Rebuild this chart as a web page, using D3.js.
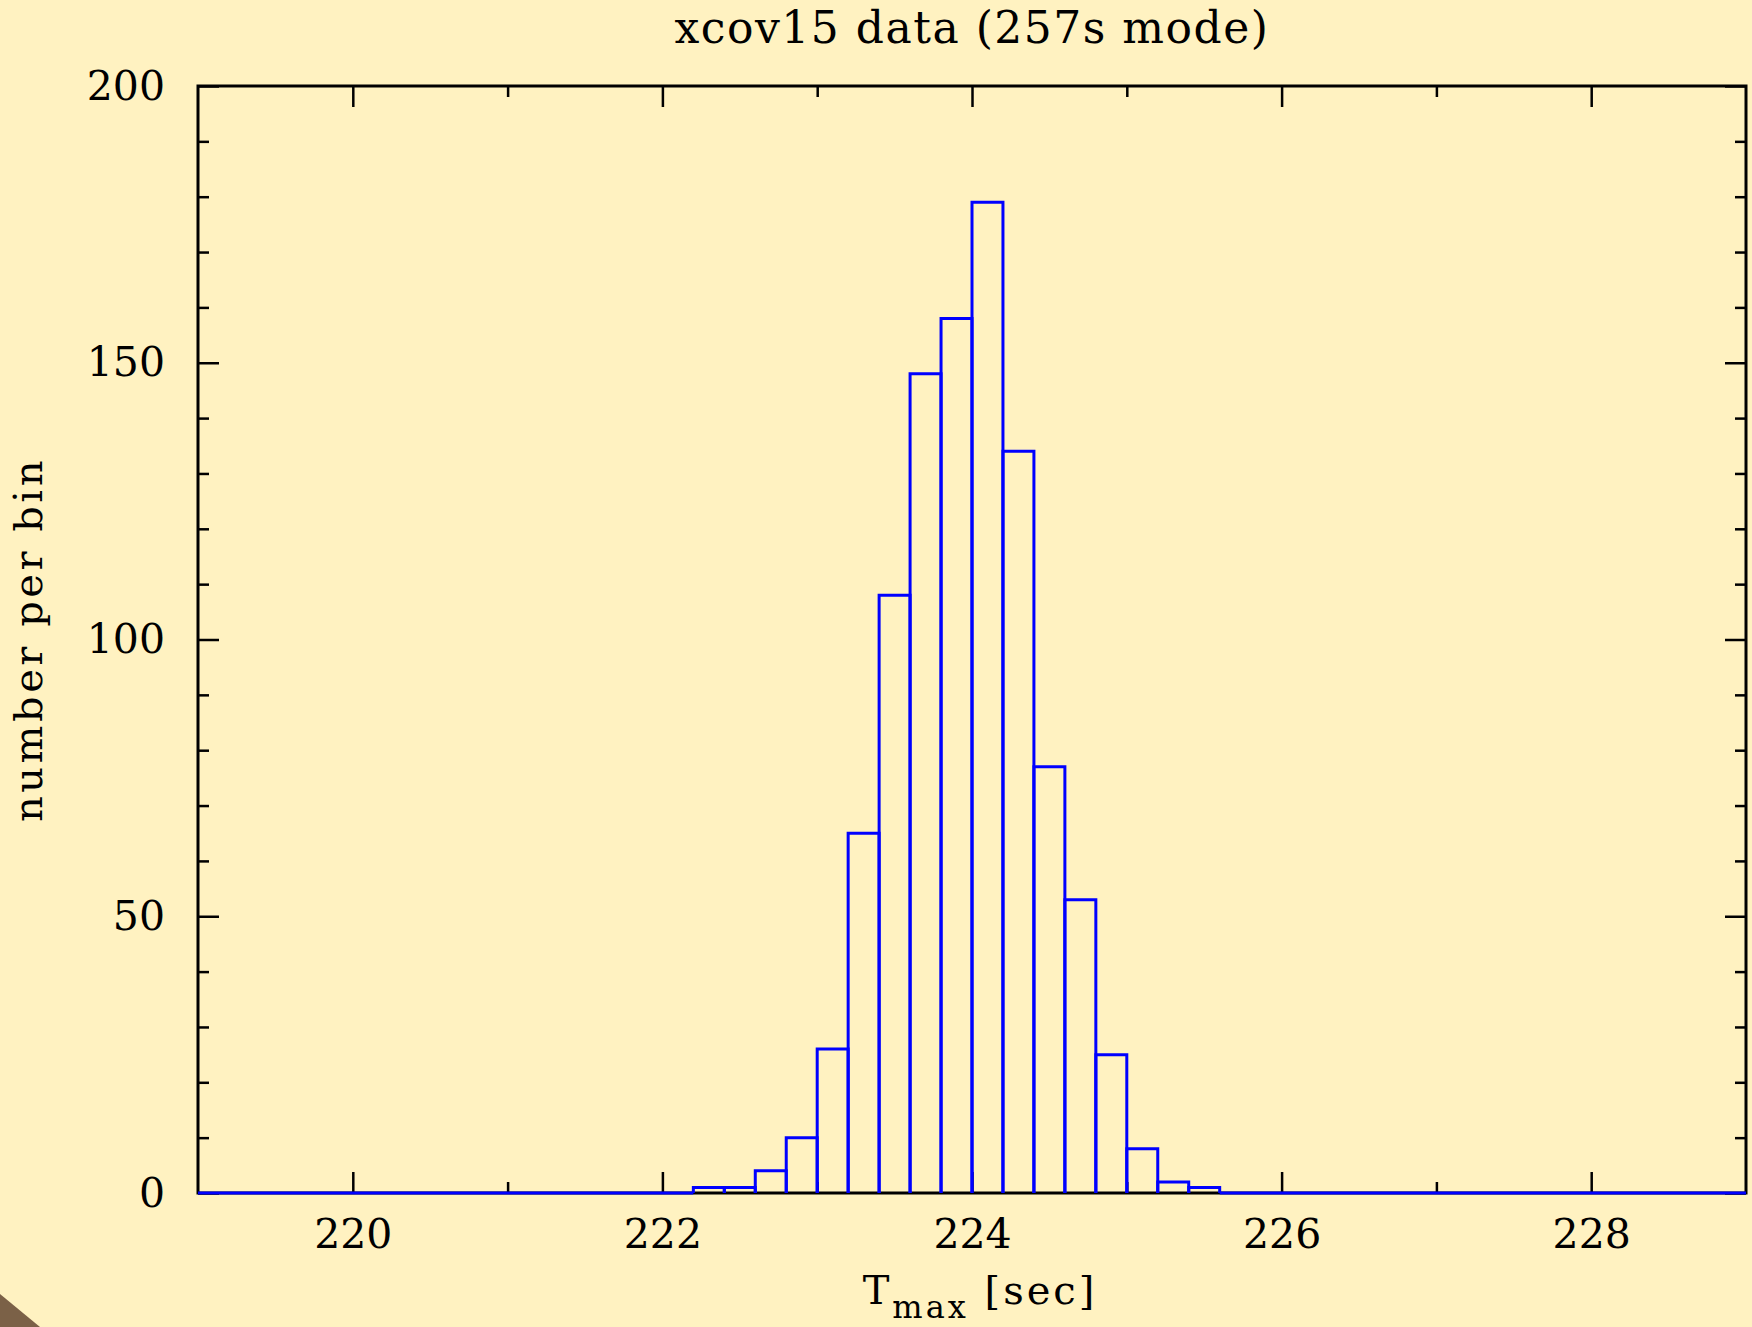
<!DOCTYPE html>
<html>
<head>
<meta charset="utf-8">
<script src="https://cdn.jsdelivr.net/npm/d3@7"></script>
<style>
  body { margin: 0; background: #fff2c1; }
  svg { display: block; }
  text { font-family: "DejaVu Serif", serif; fill: #000; }
</style>
</head>
<body>
<svg id="chart"></svg>
<script>
// histogram values (bin width 0.2 s)
const binLo  = [222.2, 222.4, 222.6, 222.8, 223.0, 223.2, 223.4, 223.6, 223.8,
                224.0, 224.2, 224.4, 224.6, 224.8, 225.0, 225.2, 225.4];
const binHi  = [222.4, 222.6, 222.8, 223.0, 223.2, 223.4, 223.6, 223.8, 224.0,
                224.2, 224.4, 224.6, 224.8, 225.0, 225.2, 225.4, 225.6];
const counts = [1, 1, 4, 10, 26, 65, 108, 148, 158, 179, 134, 77, 53, 25, 8, 2, 1];

const xDomain = [219, 229];
const yDomain = [0, 200];
const xMajor = [220, 222, 224, 226, 228];
const xMinor = [221, 223, 225, 227];
const yMajor = [0, 50, 100, 150, 200];
const yMinor = [10, 20, 30, 40, 60, 70, 80, 90, 110, 120, 130, 140, 160, 170, 180, 190];

const width = 1752, height = 1327;
const margin = { left: 198, right: 6, top: 86, bottom: 134 };

const svg = d3.select('#chart').attr('width', width).attr('height', height);

svg.append('rect').attr('width', width).attr('height', height).attr('fill', '#fff2c1');
// little brown corner at bottom left
svg.append('path')
    .attr('d', `M0,${height - 33}L40,${height}L0,${height}Z`)
    .attr('fill', '#7b6147');

const x = d3.scaleLinear().domain(xDomain).range([margin.left, width - margin.right]);
const y = d3.scaleLinear().domain(yDomain).range([height - margin.bottom, margin.top]);

const x0 = x.range()[0], x1 = x.range()[1];
const yb = y.range()[0], yt = y.range()[1];

// tick marks on all four sides, pointing inwards
function ticks(axisFn, scale, values, size, pos, labels) {
    const a = axisFn(scale).tickValues(values).tickSizeInner(-size).tickSizeOuter(0);
    if (!labels) a.tickFormat('');
    const g = svg.append('g').attr('transform', pos).call(a);
    g.select('.domain').remove();
    g.selectAll('.tick line').attr('stroke', '#000').attr('stroke-width', 2.5);
    return g;
}

const bx = ticks(d3.axisBottom, x, xMajor, 21, `translate(0,${yb})`, true);
bx.call(g => g.selectAll('.tick text').attr('font-size', 41).attr('y', 26)
    .style('font-family', '"DejaVu Serif", serif'));
ticks(d3.axisBottom, x, xMinor, 11, `translate(0,${yb})`, false);
ticks(d3.axisTop, x, xMajor, 21, `translate(0,${yt})`, false);
ticks(d3.axisTop, x, xMinor, 11, `translate(0,${yt})`, false);

const ly = ticks(d3.axisLeft, y, yMajor, 21, `translate(${x0},0)`, true);
ly.call(g => g.selectAll('.tick text').attr('font-size', 41).attr('x', -33)
    .style('font-family', '"DejaVu Serif", serif'));
ticks(d3.axisLeft, y, yMinor, 11, `translate(${x0},0)`, false);
ticks(d3.axisRight, y, yMajor, 21, `translate(${x1},0)`, false);
ticks(d3.axisRight, y, yMinor, 11, `translate(${x1},0)`, false);

// frame
svg.append('rect')
    .attr('x', x0).attr('y', yt)
    .attr('width', x1 - x0).attr('height', yb - yt)
    .attr('fill', 'none').attr('stroke', '#000').attr('stroke-width', 3);

// histogram outline (no bottom edge on the bars)
const bars = svg.append('g').attr('fill', 'none').attr('stroke', '#0000ff').attr('stroke-width', 3);

bars.selectAll('path.bar')
    .data(counts)
    .enter().append('path')
    .attr('class', 'bar')
    .attr('d', (d, i) => `M${x(binLo[i])},${y(0)}V${y(d)}H${x(binHi[i])}V${y(0)}`);

// empty bins either side lie on the baseline
bars.append('line')
    .attr('x1', x(xDomain[0])).attr('x2', x(binLo[0]))
    .attr('y1', y(0)).attr('y2', y(0));
bars.append('line')
    .attr('x1', x(binHi[binHi.length - 1])).attr('x2', x(xDomain[1]))
    .attr('y1', y(0)).attr('y2', y(0));

// title and axis labels
svg.append('text')
    .attr('x', (x0 + x1) / 2).attr('y', 43)
    .attr('text-anchor', 'middle')
    .attr('font-size', 44)
    .attr('letter-spacing', 1.5)
    .text('xcov15 data (257s mode)');

const xl = svg.append('text')
    .attr('x', 980).attr('y', 1304)
    .attr('text-anchor', 'middle')
    .attr('font-size', 40)
    .attr('letter-spacing', 3);
xl.append('tspan').text('T');
xl.append('tspan').attr('font-size', 32).attr('dy', 14).text('max');
xl.append('tspan').attr('dy', -14).text(' [sec]');

svg.append('text')
    .attr('transform', `translate(42,${(yt + yb) / 2}) rotate(-90)`)
    .attr('text-anchor', 'middle')
    .attr('font-size', 40)
    .attr('letter-spacing', 3.5)
    .text('number per bin');
</script>
</body>
</html>
